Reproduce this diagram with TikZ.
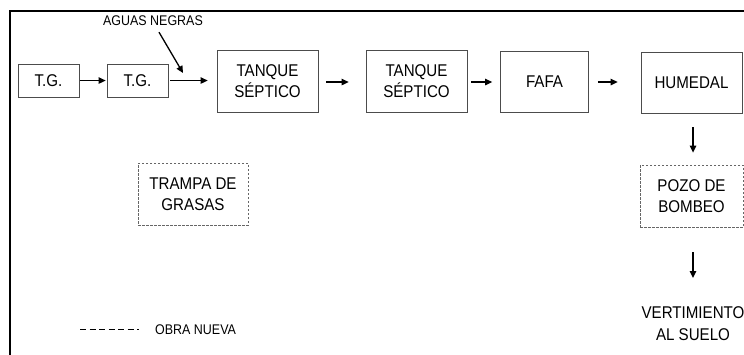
\documentclass[tikz,border=0pt]{standalone}
\usepackage{fontspec}
\setmainfont[FakeStretch=0.89]{Liberation Sans}
\usetikzlibrary{arrows.meta}
\begin{document}
\begin{tikzpicture}[x=1pt,y=-1pt,
  box/.style={draw=black!70, line width=0.8pt, align=center, inner sep=0pt, font=\fontsize{17}{21.5}\selectfont},
  newbox/.style={box, draw=black!60, dash pattern=on 2.5pt off 1.5pt},
  lbl/.style={align=center, inner sep=0pt, font=\fontsize{17}{22}\selectfont},
  small/.style={inner sep=0pt, font=\fontsize{14}{16}\selectfont},
  arr/.style={line width=1.3pt, -{Triangle[length=7pt,width=6.5pt]}},
]
\useasboundingbox (0,0) rectangle (744,354);
\draw[line width=2pt] (10,360) -- (10,10.5) -- (750,10.5);

\node[box, minimum width=61pt, minimum height=33pt] (tg1) at (48.5,80.5) {T.G.};
\node[box, minimum width=61pt, minimum height=33pt] (tg2) at (137.5,80.5) {T.G.};
\node[box, minimum width=101pt, minimum height=62pt] (tq1) at (267.5,81) {TANQUE\\SÉPTICO};
\node[box, minimum width=101pt, minimum height=62pt] (tq2) at (416.5,81) {TANQUE\\SÉPTICO};
\node[box, minimum width=88pt, minimum height=61pt] (fafa) at (544.5,82) {FAFA};
\node[box, minimum width=101pt, minimum height=61pt] (hum) at (691.5,82.5) {HUMEDAL};
\node[newbox, minimum width=103pt, minimum height=62pt] (pozo) at (691.5,196) {POZO DE\\BOMBEO};
\node[newbox, minimum width=110pt, minimum height=62pt] (trampa) at (193,194) {TRAMPA DE\\GRASAS};
\node[lbl] (vert) at (693,324) {VERTIMIENTO\\AL SUELO};
\node[small] (ag) at (153,21) {AGUAS NEGRAS};
\coordinate (agtip) at (183,73);

\draw[arr, shorten <=1pt, shorten >=1pt] (tg1.east |- 0,80.5) -- (tg2.west |- 0,80.5);
\draw[arr, shorten <=2pt, shorten >=9pt] (tg2.east |- 0,80.5) -- (tq1.west |- 0,80.5);
\draw[arr, shorten <=8pt, shorten >=17pt] (tq1.east |- 0,82) -- (tq2.west |- 0,82);
\draw[arr, shorten <=4pt, shorten >=8pt] (tq2.east |- 0,82) -- (fafa.west |- 0,82);
\draw[arr, shorten <=9pt, shorten >=23pt] (fafa.east |- 0,82) -- (hum.west |- 0,82);
\draw[arr, shorten <=14pt, shorten >=12pt] (hum.south -| 693,0) -- (pozo.north -| 693,0);
\coordinate (vtip) at (693,278);
\draw[arr, shorten <=25pt] (pozo.south -| vtip) -- (vtip);
\draw[arr] ([xshift=6pt,yshift=-6pt]ag.south) -- (agtip);

\coordinate (la) at (80,329);
\coordinate (lb) at (139,329);
\draw[line width=0.8pt, dash pattern=on 6pt off 3.5pt] (la) -- (lb);
\node[small, anchor=west] (obra) at (155,329.5) {OBRA NUEVA};
\end{tikzpicture}
\end{document}
